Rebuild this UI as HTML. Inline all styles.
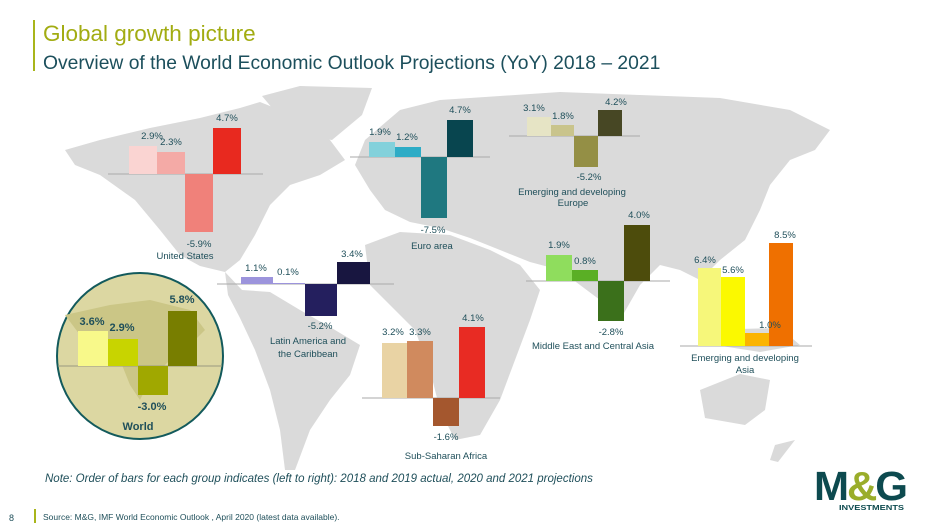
<!DOCTYPE html>
<html><head><meta charset="utf-8"><style>
body{margin:0;background:#fff}
svg{display:block}
text{font-family:"Liberation Sans",Arial,sans-serif}
.l{font-size:9.5px;fill:#1f4f5a;text-anchor:middle}
.w{font-size:11px;font-weight:bold;fill:#1f4f5a;text-anchor:middle}
</style></head><body>
<svg width="940" height="529" viewBox="0 0 940 529">
<g fill="#dadada">
<path d="M65 150 L100 140 L150 128 L200 118 L240 108 L260 102 L280 110 L300 120 L330 140 L345 160 L320 175 L290 185 L270 205 L255 235 L240 260 L225 272 L200 266 L180 255 L160 230 L135 200 L100 175 L75 165 Z"/>
<path d="M262 96 L300 86 L372 88 L362 115 L332 140 L302 135 L278 115 Z"/>
<path d="M355 165 L365 140 L400 110 L440 100 L500 96 L560 92 L640 95 L720 98 L790 110 L830 130 L815 150 L790 160 L770 185 L760 210 L745 240 L720 260 L700 280 L680 270 L660 265 L640 285 L620 320 L600 300 L580 285 L560 270 L530 262 L500 250 L470 238 L440 228 L410 222 L385 210 L370 190 Z"/>
<path d="M365 245 L400 232 L450 235 L490 250 L520 265 L540 290 L530 320 L515 360 L500 400 L480 435 L455 440 L440 410 L430 370 L415 330 L390 305 L370 285 Z"/>
<path d="M225 272 L242 290 L270 292 L300 310 L335 330 L360 345 L350 375 L330 400 L310 430 L295 470 L285 470 L280 430 L270 390 L255 350 L240 318 L228 295 Z"/>
<path d="M700 330 L780 328 L800 345 L760 352 L715 345 Z"/>
<path d="M700 390 L740 374 L770 380 L765 410 L745 425 L705 418 Z"/>
<path d="M775 445 L795 440 L778 462 L770 460 Z"/>
</g>
<rect x="33" y="20" width="2" height="51" fill="#a9b51b"/>
<text x="43" y="41" font-size="22.5" fill="#a2ac12">Global growth picture</text>
<text x="43" y="69" font-size="19.3" fill="#1c4f5c">Overview of the World Economic Outlook Projections (YoY) 2018 – 2021</text>

<line x1="108" y1="174" x2="263" y2="174" stroke="#aaa" stroke-width="1"/>
<rect x="129" y="146" width="28" height="28" fill="#fad4d2"/>
<rect x="157" y="152" width="28" height="22" fill="#f4aaa6"/>
<rect x="185" y="174" width="28" height="58" fill="#f0817a"/>
<rect x="213" y="128" width="28" height="46" fill="#e8291f"/>
<text class="l" x="152" y="139">2.9%</text><text class="l" x="171" y="145">2.3%</text>
<text class="l" x="227" y="121">4.7%</text><text class="l" x="199" y="247">-5.9%</text>
<text class="l" x="185" y="259">United States</text>

<line x1="350" y1="157" x2="490" y2="157" stroke="#aaa"/>
<rect x="369" y="142" width="26" height="15" fill="#83d1db"/>
<rect x="395" y="147" width="26" height="10" fill="#2eacc6"/>
<rect x="421" y="157" width="26" height="61" fill="#1f7880"/>
<rect x="447" y="120" width="26" height="37" fill="#08454f"/>
<text class="l" x="380" y="135">1.9%</text><text class="l" x="407" y="140">1.2%</text>
<text class="l" x="460" y="113">4.7%</text><text class="l" x="433" y="233">-7.5%</text>
<text class="l" x="432" y="249">Euro area</text>

<line x1="509" y1="136" x2="640" y2="136" stroke="#aaa"/>
<rect x="527" y="117" width="24" height="19" fill="#e6e4c5"/>
<rect x="551" y="125" width="23" height="11" fill="#c9c48c"/>
<rect x="574" y="136" width="24" height="31" fill="#948f45"/>
<rect x="598" y="110" width="24" height="26" fill="#474724"/>
<text class="l" x="534" y="111">3.1%</text><text class="l" x="563" y="119">1.8%</text>
<text class="l" x="616" y="105">4.2%</text><text class="l" x="589" y="180">-5.2%</text>
<text class="l" x="572" y="195">Emerging and developing</text>
<text class="l" x="573" y="206">Europe</text>

<line x1="526" y1="281" x2="670" y2="281" stroke="#aaa"/>
<rect x="546" y="255" width="26" height="26" fill="#8fdd5d"/>
<rect x="572" y="270" width="26" height="11" fill="#5aaf25"/>
<rect x="598" y="281" width="26" height="40" fill="#3b701b"/>
<rect x="624" y="225" width="26" height="56" fill="#4d4c0c"/>
<text class="l" x="559" y="248">1.9%</text><text class="l" x="585" y="264">0.8%</text>
<text class="l" x="639" y="218">4.0%</text><text class="l" x="611" y="335">-2.8%</text>
<text class="l" x="593" y="349">Middle East and Central Asia</text>

<line x1="680" y1="346" x2="812" y2="346" stroke="#aaa"/>
<rect x="698" y="268" width="23" height="78" fill="#f6f77a"/>
<rect x="721" y="277" width="24" height="69" fill="#fbf900"/>
<rect x="745" y="333" width="24" height="13" fill="#fbb400"/>
<rect x="769" y="243" width="24" height="103" fill="#ef7000"/>
<text class="l" x="705" y="263">6.4%</text><text class="l" x="733" y="273">5.6%</text>
<text class="l" x="770" y="328">1.0%</text><text class="l" x="785" y="238">8.5%</text>
<text class="l" x="745" y="361">Emerging and developing</text>
<text class="l" x="745" y="373">Asia</text>

<line x1="217" y1="284" x2="394" y2="284" stroke="#aaa"/>
<rect x="241" y="277" width="32" height="7" fill="#9c94dc"/>
<rect x="273" y="283" width="32" height="1" fill="#9c94dc"/>
<rect x="305" y="284" width="32" height="32" fill="#241f5e"/>
<rect x="337" y="262" width="33" height="22" fill="#181640"/>
<text class="l" x="256" y="271">1.1%</text><text class="l" x="288" y="275">0.1%</text>
<text class="l" x="352" y="257">3.4%</text><text class="l" x="320" y="329">-5.2%</text>
<text class="l" x="308" y="344">Latin America and</text>
<text class="l" x="308" y="357">the Caribbean</text>

<line x1="362" y1="398" x2="500" y2="398" stroke="#aaa"/>
<rect x="382" y="343" width="25" height="55" fill="#e9d3a4"/>
<rect x="407" y="341" width="26" height="57" fill="#d08a5e"/>
<rect x="433" y="398" width="26" height="28" fill="#a4572e"/>
<rect x="459" y="327" width="26" height="71" fill="#e82b23"/>
<text class="l" x="393" y="335">3.2%</text><text class="l" x="420" y="335">3.3%</text>
<text class="l" x="473" y="321">4.1%</text><text class="l" x="446" y="440">-1.6%</text>
<text class="l" x="446" y="459">Sub-Saharan Africa</text>

<circle cx="140" cy="356" r="83" fill="#dcd7a2" stroke="#135a5c" stroke-width="2"/>
<path d="M65 315 L110 305 L150 300 L190 310 L205 330 L190 345 L170 360 L150 380 L140 400 L130 385 L120 360 L100 345 L80 335 Z" fill="#cbc686"/>
<line x1="58" y1="366" x2="222" y2="366" stroke="#9a9a80"/>
<rect x="78" y="331" width="30" height="35" fill="#f8f98a"/>
<rect x="108" y="339" width="30" height="27" fill="#c8d400"/>
<rect x="138" y="366" width="30" height="29" fill="#a0a800"/>
<rect x="168" y="311" width="29" height="55" fill="#787e00"/>
<text class="w" x="92" y="325">3.6%</text><text class="w" x="122" y="331">2.9%</text>
<text class="w" x="182" y="303">5.8%</text><text class="w" x="152" y="410">-3.0%</text>
<text class="w" x="138" y="430" font-size="12">World</text>

<text x="45" y="482" font-size="11.5" font-style="italic" fill="#1f4f5a">Note: Order of bars for each group indicates (left to right): 2018 and 2019 actual, 2020 and 2021 projections</text>
<text x="9" y="521" font-size="9" fill="#1f4f5a">8</text>
<rect x="34" y="509" width="2" height="14" fill="#a9b51b"/>
<text x="43" y="520" font-size="8.5" fill="#1f4f5a">Source: M&amp;G,  IMF World Economic Outlook  , April 2020 (latest data available).</text>

<text x="814" y="500" font-size="41" font-weight="bold" fill="#0d4a4f" letter-spacing="-2" textLength="92" lengthAdjust="spacingAndGlyphs">M<tspan fill="#9aad2a">&amp;</tspan>G</text>
<text x="839" y="510" font-size="7.5" font-weight="bold" fill="#0d4a4f" textLength="65" lengthAdjust="spacingAndGlyphs">INVESTMENTS</text>
</svg>
</body></html>
